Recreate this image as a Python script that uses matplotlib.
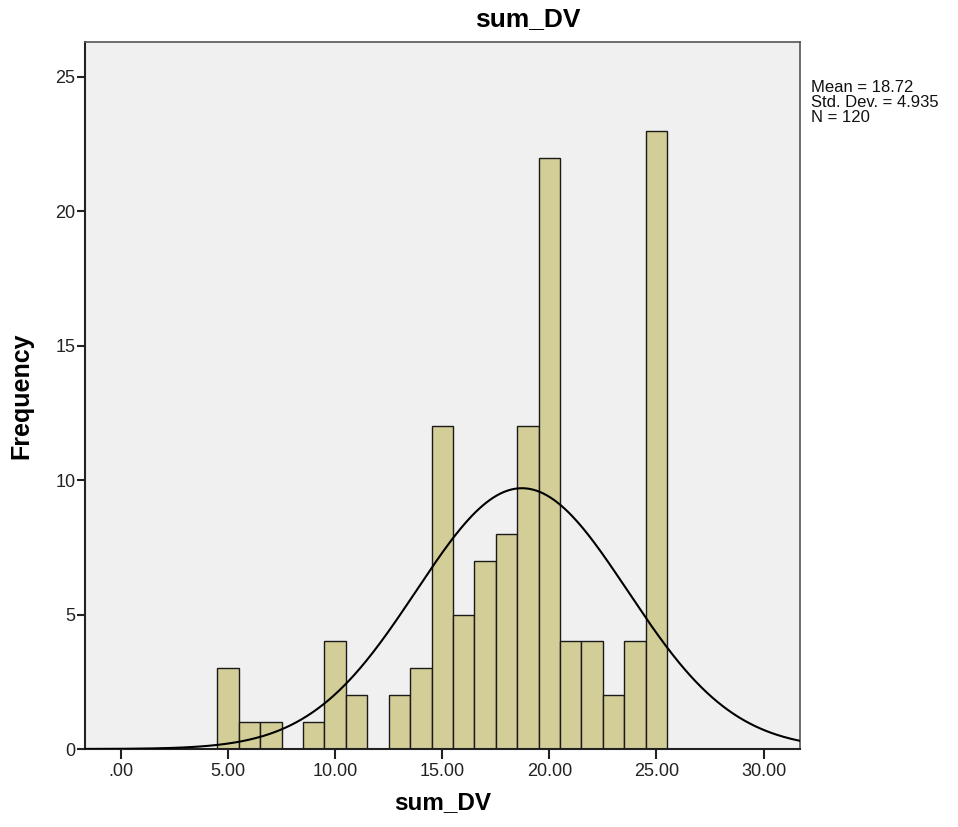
import matplotlib
matplotlib.use("Agg")
import matplotlib.pyplot as plt
import numpy as np

plt.rcParams['font.family'] = ['Liberation Sans', 'DejaVu Sans']

# sum_DV の値と度数
values = [5, 6, 7, 9, 10, 11, 13, 14, 15, 16, 17, 18, 19, 20, 21, 22, 23, 24, 25]
counts = [3, 1, 1, 1, 4, 2, 2, 3, 12, 5, 7, 8, 12, 22, 4, 4, 2, 4, 23]
mean = 18.72
std = 4.935
n = 120

x_ticks = [0, 5, 10, 15, 20, 25, 30]
x_ticklabels = ['.00', '5.00', '10.00', '15.00', '20.00', '25.00', '30.00']
y_ticks = [0, 5, 10, 15, 20, 25]

fig = plt.figure(figsize=(9.58, 8.27), dpi=100)
ax = fig.add_axes([0.0887, 0.0943, 0.7463, 0.8550])
ax.set_facecolor('#F0F0F0')

#ヒストグラム
ax.bar(values, counts, width=1.0, color='#D3CE97', edgecolor='#1a1a1a', linewidth=1.0, zorder=2)

#正規分布曲線
xs = np.linspace(-1.7, 31.7, 400)
ys = n * 1.0 / (std * np.sqrt(2 * np.pi)) * np.exp(-0.5 * ((xs - mean) / std) ** 2)
ax.plot(xs, ys, color='black', linewidth=1.5, zorder=3)

ax.set_xlim([-1.68, 31.7])
ax.set_ylim([0, 26.3])
ax.set_xticks(x_ticks)
ax.set_xticklabels(x_ticklabels)
ax.set_yticks(y_ticks)
ax.tick_params(axis='both', direction='out', width=1.5, labelsize=13, colors='#222222')
ax.tick_params(axis='x', length=7, pad=3)
ax.tick_params(axis='y', length=6, pad=1)
for s in ax.spines.values():
    s.set_color('#555555')
    s.set_linewidth(1.2)
ax.spines['left'].set_color('#222222')
ax.spines['bottom'].set_color('#222222')
ax.spines['left'].set_linewidth(1.5)
ax.spines['bottom'].set_linewidth(1.5)

ax.set_xlabel('sum_DV', fontsize=17.5, fontweight='bold', labelpad=8)
ax.set_ylabel('Frequency', fontsize=18, fontweight='bold', labelpad=16)
fig.text(528 / 958, 1 - 19 / 827, 'sum_DV', fontsize=19, fontweight='bold', ha='center', va='center')

fig.text(811 / 958, 1 - 80 / 827, 'Mean = %.2f\nStd. Dev. = %.3f\nN = %d' % (mean, std, n),
         fontsize=12, va='top', ha='left', linespacing=1.0, color='#111111')

fig.savefig('out.png', dpi=100)
